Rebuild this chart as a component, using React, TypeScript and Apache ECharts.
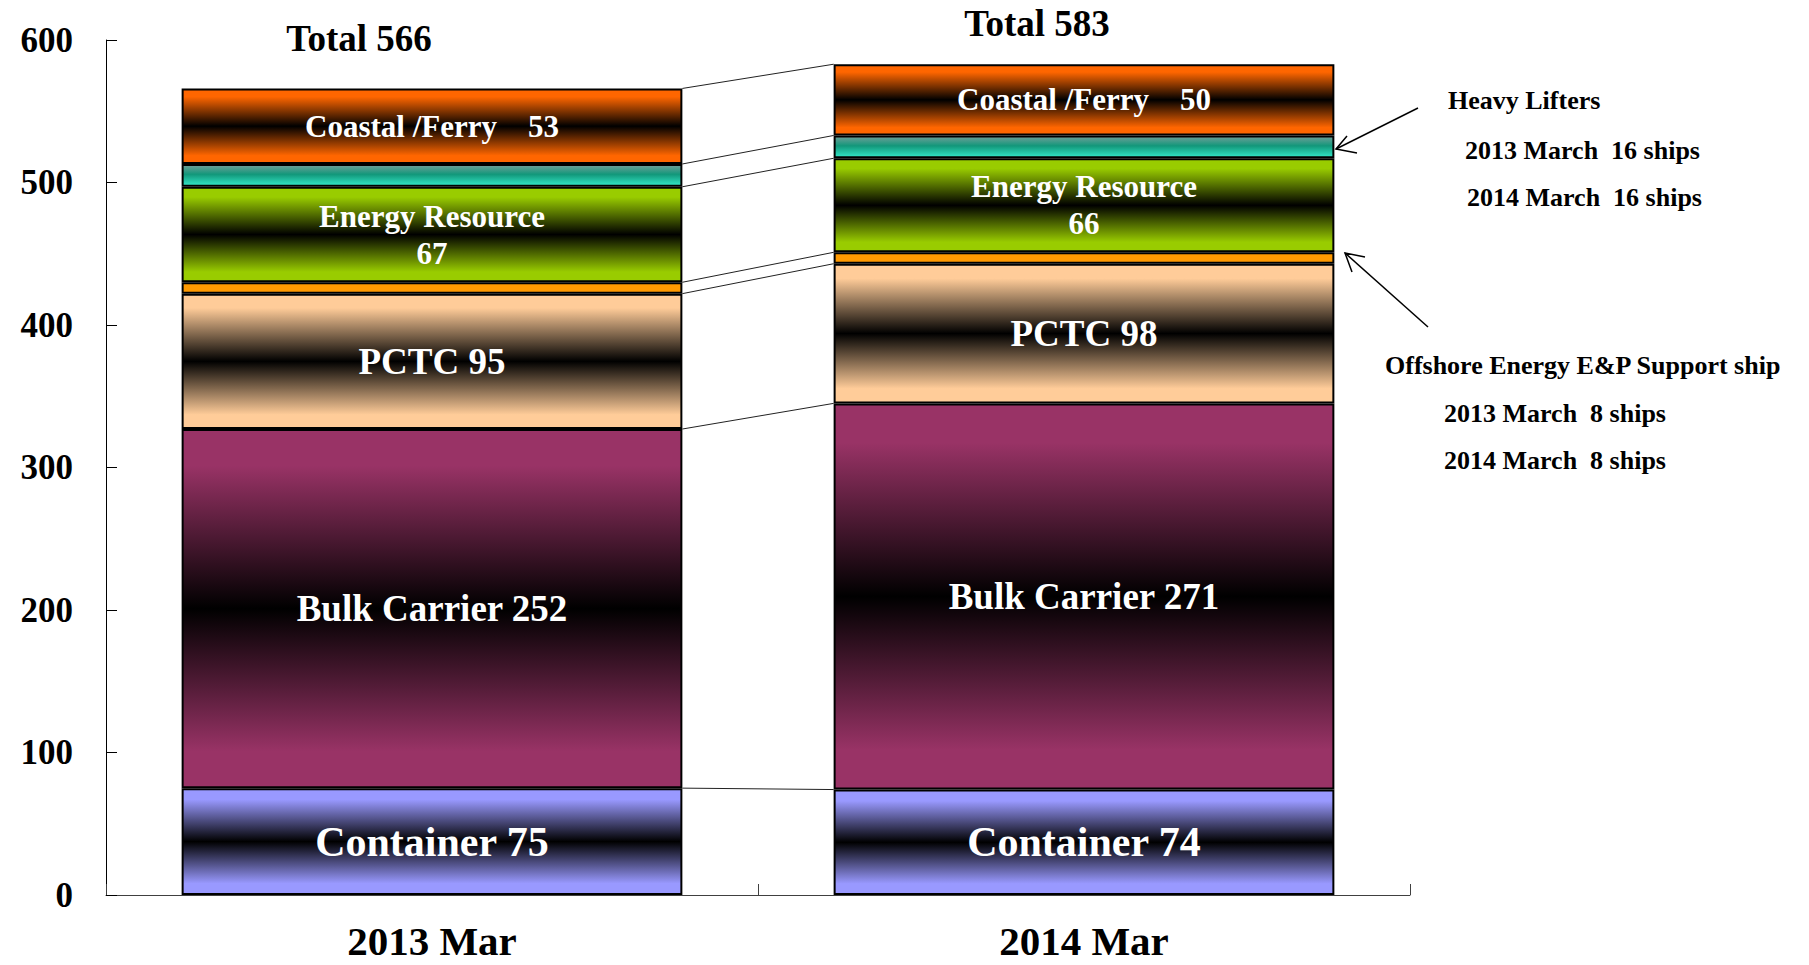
import React, { useEffect, useRef } from 'react';
import * as echarts from 'echarts';

const categories = ['2013 Mar', '2014 Mar'];
const container = [75, 74];
const bulk = [252, 271];
const pctc = [95, 98];
const offshore = [8, 8];
const energy = [67, 66];
const heavy = [16, 16];
const coastal = [53, 50];
const totals = [566, 583];
const yMin = 0;
const yMax = 600;
const yInterval = 100;

const annHeavy = ['Heavy Lifters', '2013 March\u00a0\u00a016 ships', '2014 March\u00a0\u00a016 ships'];
const annOffshore = ['Offshore Energy E&P Support ship', '2013 March\u00a0\u00a08 ships', '2014 March\u00a0\u00a08 ships'];

const FONT = "'Times New Roman', 'Liberation Serif', serif";
const BAR_RATIO = 0.768;

function grad(c: string) {
  return new echarts.graphic.LinearGradient(0, 0, 0, 1, [
    { offset: 0, color: c },
    { offset: 0.1, color: c },
    { offset: 0.5, color: '#000000' },
    { offset: 0.9, color: c },
    { offset: 1, color: c },
  ]);
}

export default function App() {
  const ref = useRef<HTMLDivElement>(null);
  useEffect(() => {
    if (!ref.current) return;
    const chart = echarts.init(ref.current, null, { renderer: 'svg' });

    const layers = [container, bulk, pctc, offshore, energy, heavy, coastal];
    const cum13: number[] = [];
    const cum14: number[] = [];
    let s13 = 0, s14 = 0;
    layers.forEach((l) => { s13 += l[0]; s14 += l[1]; cum13.push(s13); cum14.push(s14); });
    const connectors = cum13.map((v, i) => [0, v, cum14[i]]);

    const labelBase = { show: true, position: 'inside', color: '#fff', fontWeight: 'bold', fontFamily: FONT };
    const border = { borderColor: '#000', borderWidth: 2 };

    const mk = (name: string, data: number[], color: any, label: any) => ({
      name, type: 'bar', stack: 'total', data, barWidth: BAR_RATIO * 100 + '%',
      itemStyle: { color, ...border },
      label: label ? { ...labelBase, ...label } : { show: false },
    });

    const annText = (text: string, x: number, y: number) => ({
      type: 'text', x, y,
      style: { text, fill: '#000', font: `bold 26px ${FONT}`, textAlign: 'left', textVerticalAlign: 'middle' },
    });

    chart.setOption({
      animation: false,
      grid: { left: 106, right: 399, top: 40, bottom: 70, containLabel: false },
      xAxis: {
        type: 'category', data: categories,
        axisLine: { show: true, lineStyle: { color: '#404040', width: 1 } },
        axisTick: { show: true, inside: true, length: 11, lineStyle: { color: '#404040' } },
        axisLabel: { color: '#000', fontSize: 41, lineHeight: 40, fontWeight: 'bold', fontFamily: FONT, margin: 26 },
      },
      yAxis: {
        type: 'value', min: yMin, max: yMax, interval: yInterval,
        axisLine: { show: true, lineStyle: { color: '#000', width: 1 } },
        axisTick: { show: true, inside: true, length: 11, lineStyle: { color: '#000' } },
        splitLine: { show: false },
        axisLabel: { color: '#000', fontSize: 35, fontWeight: 'bold', fontFamily: FONT, margin: 33 },
      },
      series: [
        mk('Container', container, grad('#9999ff'), { fontSize: 42, formatter: (p: any) => `Container ${p.value}` }),
        mk('Bulk Carrier', bulk, grad('#993366'), { fontSize: 37, formatter: (p: any) => `Bulk Carrier ${p.value}` }),
        mk('PCTC', pctc, grad('#ffcc99'), { fontSize: 37, formatter: (p: any) => `PCTC ${p.value}` }),
        mk('Offshore Energy E&P Support ship', offshore, '#ff9900', null),
        mk('Energy Resource', energy, grad('#99cc00'), { fontSize: 31, lineHeight: 37, formatter: (p: any) => `Energy Resource\n${p.value}` }),
        mk('Heavy Lifters', heavy, new echarts.graphic.LinearGradient(0, 0, 0, 1, [
          { offset: 0, color: '#709f99' },
          { offset: 0.45, color: '#12977a' },
          { offset: 1, color: '#33e8c8' },
        ]), null),
        mk('Coastal /Ferry', coastal, grad('#ff6600'), { fontSize: 31, formatter: (p: any) => `Coastal /Ferry\u00a0\u00a0\u00a0\u00a0${p.value}` }),
        {
          type: 'custom', name: 'connectors', coordinateSystem: 'cartesian2d',
          data: connectors, encode: { x: 0, y: [1, 2] }, z: 5, silent: true,
          renderItem: (params: any, api: any) => {
            const a = api.coord([0, api.value(1)]);
            const b = api.coord([1, api.value(2)]);
            const hw = (api.size([1, 0])[0] * BAR_RATIO) / 2;
            return {
              type: 'line',
              shape: { x1: a[0] + hw, y1: a[1], x2: b[0] - hw, y2: b[1] },
              style: { stroke: '#222', lineWidth: 1 },
            };
          },
        },
      ],
      graphic: [
        { type: 'text', x: 359, y: 38, style: { text: `Total ${totals[0]}`, fill: '#000', font: `bold 37px ${FONT}`, textAlign: 'center', textVerticalAlign: 'middle' } },
        { type: 'text', x: 1037, y: 23, style: { text: `Total ${totals[1]}`, fill: '#000', font: `bold 37px ${FONT}`, textAlign: 'center', textVerticalAlign: 'middle' } },
        annText(annHeavy[0], 1448, 100),
        annText(annHeavy[1], 1465, 150),
        annText(annHeavy[2], 1467, 197),
        annText(annOffshore[0], 1385, 365),
        annText(annOffshore[1], 1444, 413),
        annText(annOffshore[2], 1444, 460),
        { type: 'line', shape: { x1: 1418, y1: 108, x2: 1336, y2: 149 }, style: { stroke: '#000', lineWidth: 1.5 } },
        { type: 'polyline', shape: { points: [[1357, 153], [1336, 149], [1347, 136]] }, style: { stroke: '#000', lineWidth: 1.5, fill: null } },
        { type: 'line', shape: { x1: 1428, y1: 327, x2: 1345, y2: 253 }, style: { stroke: '#000', lineWidth: 1.5 } },
        { type: 'polyline', shape: { points: [[1365, 257], [1345, 253], [1352, 272]] }, style: { stroke: '#000', lineWidth: 1.5, fill: null } },
      ],
    });
    return () => chart.dispose();
  }, []);
  return <div ref={ref} style={{ position: 'fixed', left: 0, top: 0, width: 1809, height: 965, background: '#fff' }} />;
}
